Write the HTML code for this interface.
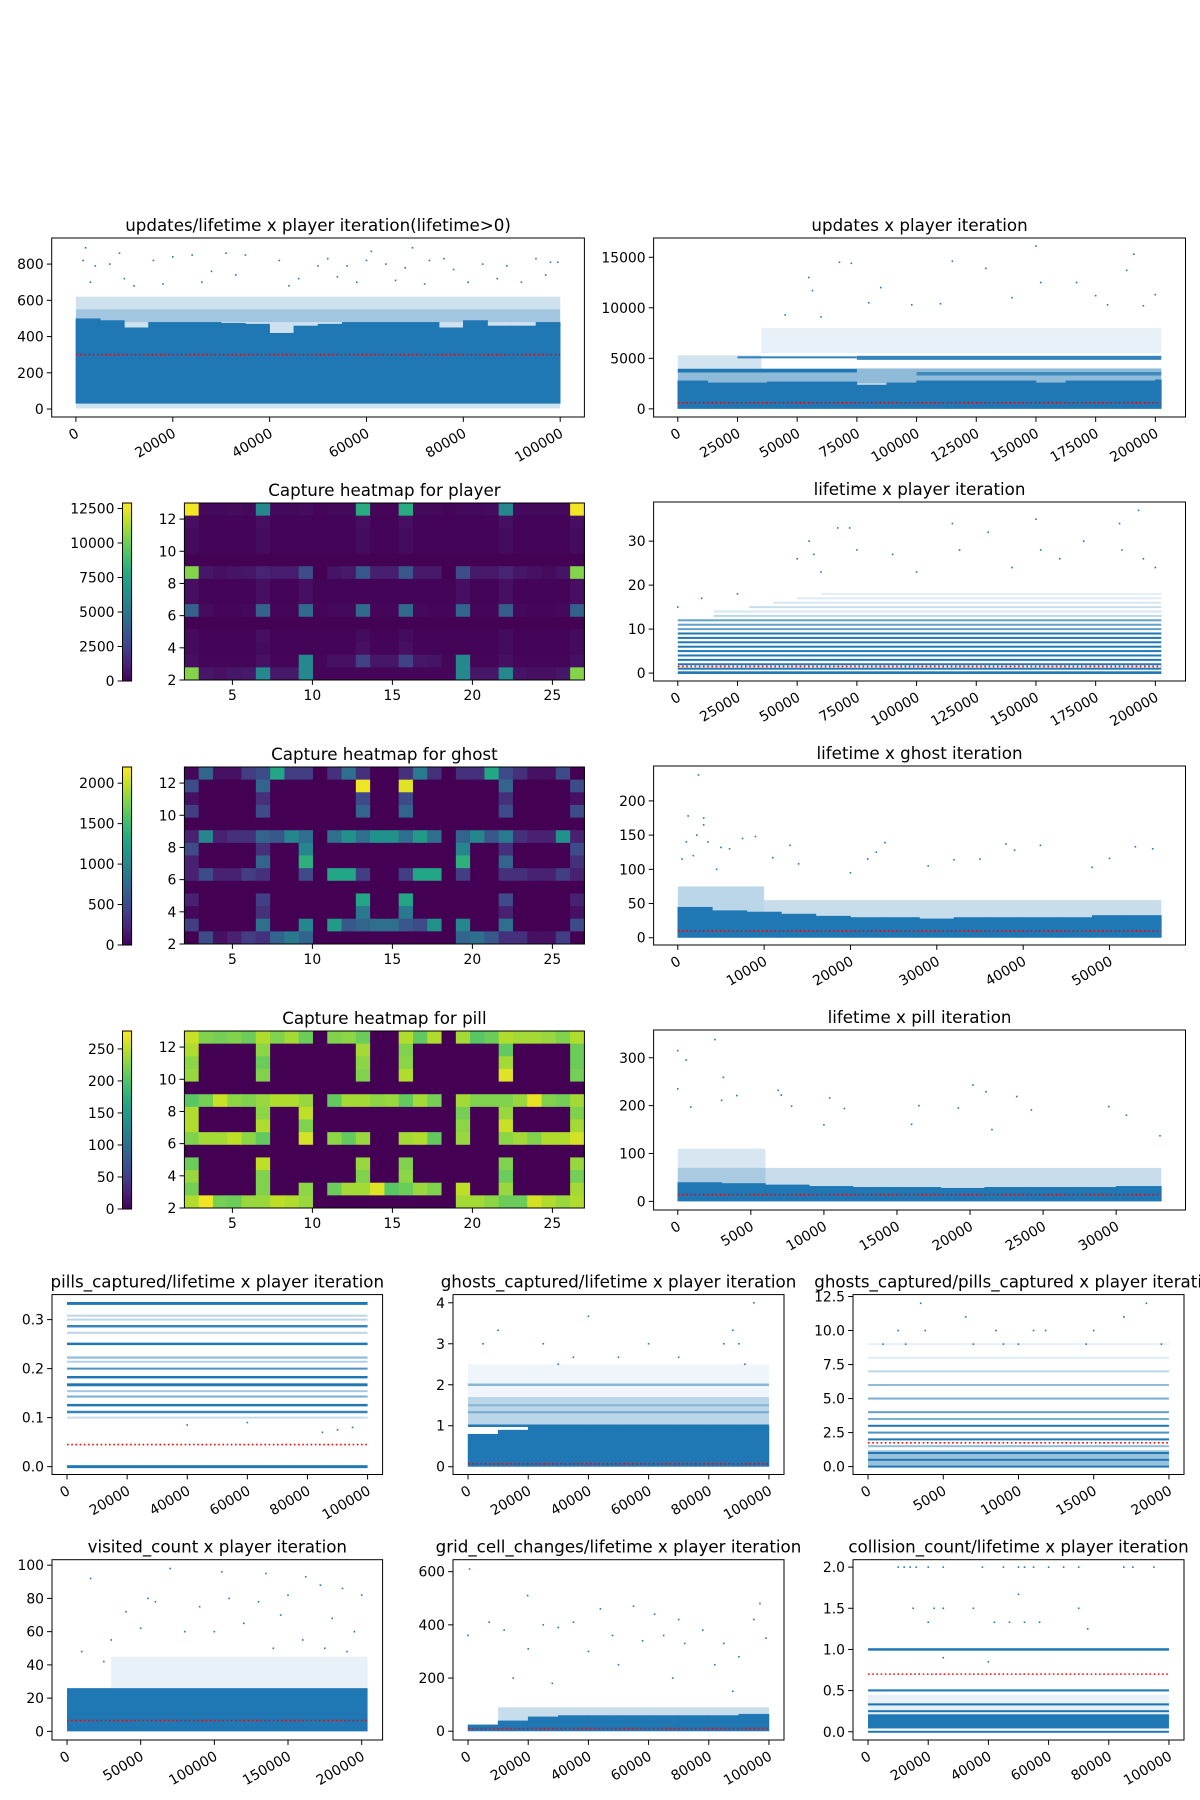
<!DOCTYPE html>
<html><head><meta charset="utf-8"><title>Pacman training stats</title>
<style>
html,body{margin:0;padding:0;background:#fff;}
#fig{display:block;width:1200px;height:1800px;}
text{font-family:"DejaVu Sans","Liberation Sans",sans-serif;fill:#000;}
</style></head>
<body>
<svg id="fig" xmlns="http://www.w3.org/2000/svg" width="1200" height="1800" viewBox="0 0 1200 1800">
<rect x="0" y="0" width="1200" height="1800" fill="#fff"/>
</svg>
<script>
// ---------- heatmap data (rows top y=13 down to y=2, 28 columns x=2..27) ----------
const playerHeat = [
[12700,300,300,400,300,6000,300,300,400,200,300,300,8000,200,200,8000,300,300,200,300,300,400,6000,300,300,300,300,12700],
[500,100,100,100,100,500,100,100,100,100,100,100,500,100,100,500,100,100,100,100,100,100,500,100,100,100,100,500],
[400,100,100,100,100,400,100,100,100,100,100,100,400,100,100,400,100,100,100,100,100,100,400,100,100,100,100,400],
[400,100,100,100,100,400,100,100,100,100,100,100,400,100,100,400,100,100,100,100,100,100,400,100,100,100,100,400],
[50,50,50,50,50,50,50,50,50,50,50,50,50,50,50,50,50,50,50,50,50,50,50,50,50,50,50,50],
[10500,800,500,700,800,1200,1000,1000,3000,0,700,900,3500,1100,1100,3500,900,900,0,3000,900,900,1300,800,600,400,700,10500],
[500,100,100,100,100,500,100,100,500,100,100,100,100,100,100,100,100,100,100,500,100,100,500,100,100,100,100,500],
[500,100,100,100,100,500,100,100,500,100,100,100,100,100,100,100,100,100,100,500,100,100,500,100,100,100,100,500],
[4000,400,200,200,300,4000,200,200,4500,200,300,300,4500,200,200,4500,300,200,200,4200,200,200,3800,300,200,200,300,4000],
[50,50,50,50,50,50,50,50,50,50,50,50,50,50,50,50,50,50,50,50,50,50,50,50,50,50,50,50],
[400,100,100,100,100,500,100,100,100,100,100,100,400,100,100,400,100,100,100,100,100,100,400,100,100,100,100,400],
[400,100,100,100,100,400,100,100,100,100,100,100,500,100,100,500,100,100,100,100,100,100,400,100,100,100,100,400],
[500,200,200,200,200,600,200,200,6000,200,600,600,2500,800,800,2500,800,700,200,6000,200,200,500,200,200,200,200,600],
[10500,800,600,800,900,6000,900,900,6000,200,200,200,200,200,200,200,200,200,200,6000,800,800,6000,700,500,500,800,10500]
];
const ghostHeat = [
[50,700,100,100,400,500,1300,400,400,0,300,800,300,0,0,300,900,300,0,300,300,1300,500,300,100,100,500,0],
[500,0,0,0,0,700,0,0,0,0,0,0,2150,0,0,2100,0,0,0,0,0,0,700,0,0,0,0,500],
[100,0,0,0,0,300,0,0,0,0,0,0,500,0,0,500,0,0,0,0,0,0,300,0,0,0,0,100],
[400,0,0,0,0,500,0,0,0,0,0,0,700,0,0,700,0,0,0,0,0,0,500,0,0,0,0,500],
[0,0,0,0,0,0,0,0,0,0,0,0,0,0,0,0,0,0,0,0,0,0,0,0,0,0,0,0],
[200,1000,200,300,300,700,600,1000,800,0,800,1100,800,1100,1100,800,1200,800,0,700,1000,600,900,300,200,200,1100,200],
[500,0,0,0,0,300,0,0,1000,0,0,0,0,0,0,0,0,0,0,1000,0,0,300,0,0,0,0,500],
[200,0,0,0,0,700,0,0,1400,0,0,0,0,0,0,0,0,0,0,1400,0,0,700,0,0,0,0,300],
[200,500,200,200,400,300,0,0,500,0,1300,1300,400,0,0,400,1300,1300,0,400,0,0,300,300,200,200,400,200],
[0,0,0,0,0,0,0,0,0,0,0,0,0,0,0,0,0,0,0,0,0,0,0,0,0,0,0,0],
[200,0,0,0,0,400,0,0,0,0,0,0,1300,0,0,1300,0,0,0,0,0,0,500,0,0,0,0,200],
[50,0,0,0,0,300,0,0,0,0,0,0,900,0,0,900,0,0,0,0,0,0,200,0,0,0,0,100],
[400,0,0,0,0,800,0,0,1000,0,1200,600,700,800,800,600,500,1100,0,1000,0,0,800,0,0,0,0,500],
[0,500,100,200,400,300,700,900,700,0,0,0,0,0,0,0,0,0,0,700,800,600,300,300,100,100,400,0]
];
const pillHeat = [
[255,225,220,225,215,245,225,240,215,0,225,230,215,0,0,245,210,245,0,240,205,215,245,240,240,235,225,245],
[245,0,0,0,0,230,0,0,0,0,0,0,240,0,0,225,0,0,0,0,0,0,210,0,0,0,0,215],
[230,0,0,0,0,215,0,0,0,0,0,0,230,0,0,230,0,0,0,0,0,0,240,0,0,0,0,215],
[235,0,0,0,0,225,0,0,0,0,0,0,225,0,0,245,0,0,0,0,0,0,265,0,0,0,0,220],
[0,0,0,0,0,0,0,0,0,0,0,0,0,0,0,0,0,0,0,0,0,0,0,0,0,0,0,0],
[205,220,255,230,225,235,245,245,235,0,210,240,240,230,235,210,240,220,0,240,225,225,225,235,268,225,220,240],
[245,0,0,0,0,230,0,0,250,0,0,0,0,0,0,0,0,0,0,220,0,0,235,0,0,0,0,225],
[245,0,0,0,0,245,0,0,225,0,0,0,0,0,0,0,0,0,0,230,0,0,255,0,0,0,0,240],
[225,240,240,250,230,210,0,0,260,0,230,210,235,0,0,240,245,210,0,235,0,0,230,240,225,245,245,260],
[0,0,0,0,0,0,0,0,0,0,0,0,0,0,0,0,0,0,0,0,0,0,0,0,0,0,0,0],
[215,0,0,0,0,250,0,0,0,0,0,0,235,0,0,225,0,0,0,0,0,0,225,0,0,0,0,235],
[235,0,0,0,0,225,0,0,0,0,0,0,225,0,0,230,0,0,0,0,0,0,215,0,0,0,0,220],
[220,0,0,0,0,225,0,0,230,0,215,240,240,265,205,215,235,225,0,250,0,0,235,0,0,0,0,240],
[245,272,220,215,235,235,250,245,235,0,0,0,0,0,0,0,0,0,0,240,240,230,215,215,260,245,235,245]
];
const heatXTicks = [5,10,15,20,25];
const heatYTicks = [2,4,6,8,10,12];
const playerCbTicks = [0,2500,5000,7500,10000,12500];
const ghostCbTicks = [0,500,1000,1500,2000];
const pillCbTicks = [0,50,100,150,200,250];

// ---------- scatter data ----------
const p1Edges = [0,5000,10000,15000,20000,25000,30000,35000,40000,45000,50000,55000,60000,65000,70000,75000,80000,85000,90000,95000,100000];
const p1Lo = [30,30,30,30,30,30,30,30,30,30,30,30,30,30,30,30,30,30,30,30];
const p1Hi = [500,490,450,480,480,480,475,470,420,460,470,480,480,480,480,450,490,460,460,480];
const p1BandX0 = [0,0];
const p1BandX1 = [100000,100000];
const p1BandY0 = [3,480];
const p1BandY1 = [620,550];
const p1BandA = [0.22,0.25];
const p1OutX = [1500,2000,4000,7000,9000,12000,16000,20000,24000,28000,31000,35000,42000,46000,50000,52000,56000,60000,61000,64000,68000,69500,73000,76000,78000,84000,89000,95000,98000,99500,3000,10000,18000,26000,33000,44000,54000,58000,66000,72000,81000,87000,92000,97000];
const p1OutY = [820,890,790,800,860,680,820,840,850,760,860,850,820,720,790,830,790,820,870,800,780,890,820,830,770,800,790,830,810,810,700,720,690,700,740,680,730,700,710,690,700,720,700,740];
const p1Mean = [300];

const p2Edges = [0,12500,25000,37500,50000,62500,75000,87500,100000,112500,125000,137500,150000,162500,175000,187500,200000,202500];
const p2Lo = [0,0,0,0,0,0,0,0,0,0,0,0,0,0,0,0,0];
const p2Hi = [2800,2600,2600,2700,2700,2700,2400,2600,2800,2800,2800,2800,2600,2800,2800,2800,2900];
const p2BandX0 = [0,0,25000,75000,100000,35000,0];
const p2BandX1 = [202500,75000,75000,202500,202500,202500,35000];
const p2BandY0 = [2500,3600,5000,4850,3300,5500,4000];
const p2BandY1 = [4000,3950,5200,5250,3650,8000,5300];
const p2BandA = [0.5,1,0.9,0.9,0.7,0.1,0.2];
const p2OutX = [67700,72700,54900,56400,115000,129000,150000,152000,167000,175000,191000,188000,200000,85000,80000,45000,60000,98000,140000,180000,195000,110000];
const p2OutY = [14500,14400,13000,11700,14600,13900,16100,12500,12500,11200,15300,13700,11300,12000,10500,9300,9100,10300,11000,10300,10200,10400];
const p2Mean = [600];

const p3BandX0 = [0,0,0,0,0,0,0,0,0,0,0,0,0,15000,15000,30000,40000,50000,60000];
const p3BandX1 = [202500,202500,202500,202500,202500,202500,202500,202500,202500,202500,202500,202500,202500,202500,202500,202500,202500,202500,202500];
const p3BandY0 = [-0.2,0.8,1.8,2.8,3.8,4.8,5.8,6.8,7.8,8.8,9.8,10.8,11.8,12.8,13.8,14.8,15.8,16.8,17.8];
const p3BandY1 = [0.4,1.2,2.2,3.2,4.2,5.2,6.2,7.2,8.2,9.2,10.2,11.2,12.2,13.2,14.2,15.2,16.2,17.2,18.2];
const p3BandA = [1,1,1,1,1,1,1,1,1,1,0.7,0.7,0.7,0.3,0.18,0.25,0.18,0.15,0.12];
const p3OutX = [0,10000,25000,50000,55000,57000,67000,72000,75000,90000,115000,118000,130000,150000,152000,170000,185000,186000,193000,195000,200000,160000,140000,100000,60000];
const p3OutY = [15,17,18,26,30,27,33,33,28,27,34,28,32,35,28,30,34,28,37,26,24,26,24,23,23];
const p3Mean = [1.5];

const p6Edges = [0,4000,8000,12000,16000,20000,24000,28000,32000,36000,40000,44000,48000,52000,56000];
const p6Lo = [0,0,0,0,0,0,0,0,0,0,0,0,0,0];
const p6Hi = [45,40,38,35,32,30,30,28,30,30,30,30,33,33];
const p6BandX0 = [0,10000];
const p6BandX1 = [10000,56000];
const p6BandY0 = [0,0];
const p6BandY1 = [75,55];
const p6BandA = [0.3,0.25];
const p6OutX = [500,1000,1200,1800,2200,2400,3000,3000,3500,4500,5000,6000,7500,9000,11000,13000,14000,22000,23000,24000,29000,32000,38000,39000,42000,48000,50000,53000,55000,20000,35000];
const p6OutY = [115,140,178,120,150,238,165,175,140,100,132,130,145,148,117,135,108,115,125,139,105,114,137,128,135,103,116,133,130,95,115];
const p6Mean = [10];

const p8Edges = [0,3000,6000,9000,12000,15000,18000,21000,24000,27000,30000,33090];
const p8Lo = [0,0,0,0,0,0,0,0,0,0,0];
const p8Hi = [40,38,35,32,30,30,28,30,30,30,32];
const p8BandX0 = [0,0];
const p8BandX1 = [33090,6000];
const p8BandY0 = [0,0];
const p8BandY1 = [70,110];
const p8BandA = [0.25,0.18];
const p8OutX = [0,0,580,890,2540,3120,3000,4040,6870,7080,7790,10400,11400,16500,19200,20200,21100,23200,24200,29500,30700,33000,16000,21500,10000];
const p8OutY = [315,235,295,197,338,259,211,221,232,222,199,216,194,200,195,243,229,219,191,198,180,137,161,150,160];
const p8Mean = [14];

const p9BandX0 = [0,0,0,0,0,0,0,0,0,0,0,0,0,0,0,0,0];
const p9BandX1 = [100000,100000,100000,100000,100000,100000,100000,100000,100000,100000,100000,100000,100000,100000,100000,100000,100000];
const p9BandY0 = [-0.003,0.330,0.306,0.298,0.284,0.271,0.248,0.220,0.212,0.198,0.180,0.164,0.152,0.141,0.123,0.109,0.099];
const p9BandY1 = [0.003,0.336,0.310,0.302,0.289,0.275,0.253,0.225,0.216,0.202,0.185,0.170,0.156,0.145,0.128,0.114,0.101];
const p9BandA = [1,1,0.3,0.3,0.9,0.3,1,0.45,0.35,0.8,1,1,0.4,0.6,1,0.9,0.25];
const p9OutX = [40000,60000,85000,90000,95000];
const p9OutY = [0.085,0.09,0.07,0.075,0.08];
const p9Mean = [0.045];

const p10Edges = [0,10000,20000,30000,40000,50000,60000,70000,80000,90000,100000];
const p10Lo = [0,0,0,0,0,0,0,0,0,0];
const p10Hi = [0.8,0.9,1.0,1.0,1.0,1.0,1.0,1.0,1.0,1.0];
const p10BandX0 = [0,0,0,0,0,0];
const p10BandX1 = [100000,100000,100000,100000,100000,100000];
const p10BandY0 = [1.0,0.97,1.97,1.31,1.48,1.7];
const p10BandY1 = [1.7,1.03,2.03,1.35,1.52,2.5];
const p10BandA = [0.3,1,0.5,0.45,0.35,0.07];
const p10OutX = [10000,5000,25000,40000,35000,60000,70000,85000,88000,90000,95000,92000,30000,50000];
const p10OutY = [3.33,3,3,3.67,2.67,3,2.67,3,3.33,3,4,2.5,2.5,2.67];
const p10Mean = [0.07];

const p11BandX0 = [0,0,0,0,0,0,0,0,0,0,0,0,0,0,0];
const p11BandX1 = [20000,20000,20000,20000,20000,20000,20000,20000,20000,20000,20000,20000,20000,20000,20000];
const p11BandY0 = [0,-0.05,0.45,0.95,1.45,1.95,2.45,2.95,3.45,3.95,4.95,5.95,6.95,7.95,8.95];
const p11BandY1 = [1.2,0.05,0.55,1.05,1.55,2.05,2.55,3.05,3.55,4.05,5.05,6.05,7.05,8.05,9.05];
const p11BandA = [0.45,1,1,1,0.5,1,0.8,1,0.6,0.7,0.6,0.5,0.3,0.15,0.1];
const p11OutX = [3500,18500,17000,6500,2000,3800,8500,11000,11800,15000,1000,2500,7000,9000,10000,14500,19500];
const p11OutY = [12,12,11,11,10,10,10,10,10,10,9,9,9,9,9,9,9];
const p11Mean = [1.75];

const p12BandX0 = [0,30000];
const p12BandX1 = [204000,204000];
const p12BandY0 = [0,26];
const p12BandY1 = [26,45];
const p12BandA = [1,0.1];
const p12OutX = [70000,16000,105000,135000,162000,172000,187000,200000,55000,60000,90000,110000,130000,150000,40000,30000,10000,120000,145000,180000,195000,80000,50000,100000,160000,175000,25000,140000,190000];
const p12OutY = [98,92,96,95,93,88,86,82,80,78,75,80,78,82,72,55,48,65,70,68,60,60,62,60,55,50,42,50,48];
const p12Mean = [6.5];

const p13Edges = [0,10000,20000,30000,40000,50000,60000,70000,80000,90000,100000];
const p13Lo = [0,0,0,0,0,0,0,0,0,0];
const p13Hi = [25,40,55,60,60,60,60,60,60,65];
const p13BandX0 = [10000];
const p13BandX1 = [100000];
const p13BandY0 = [0];
const p13BandY1 = [90];
const p13BandA = [0.25];
const p13OutX = [500,0,19800,7000,12000,20000,25000,30000,35000,40000,44000,48000,55000,58000,62000,65000,70000,72000,78000,82000,85000,90000,95000,97000,99000,50000,15000,28000,68000,88000];
const p13OutY = [610,360,510,410,380,310,400,390,410,300,460,360,470,340,440,360,420,330,380,250,330,280,420,480,350,250,200,180,200,150];
const p13Mean = [10];

const p14BandX0 = [0,0,0,0,0,0,0,0];
const p14BandX1 = [100000,100000,100000,100000,100000,100000,100000,100000];
const p14BandY0 = [-0.01,0.04,0.19,0.24,0.32,0.49,0.985,0.2];
const p14BandY1 = [0.01,0.2,0.21,0.26,0.345,0.515,1.015,0.45];
const p14BandA = [1,1,1,1,1,1,1,0.1];
const p14OutX = [10000,12000,14000,16000,20000,25000,38000,45000,50000,52000,55000,60000,65000,70000,85000,88000,95000,15000,22000,25000,35000,70000,20000,42000,47000,52000,57000,50000,73000,25000,40000];
const p14OutY = [2,2,2,2,2,2,2,2,2,2,2,2,2,2,2,2,2,1.5,1.5,1.5,1.5,1.5,1.33,1.33,1.33,1.33,1.33,1.67,1.25,0.9,0.85];
const p14Mean = [0.7];

const xt100k = [0,20000,40000,60000,80000,100000];
const xt200k = [0,25000,50000,75000,100000,125000,150000,175000,200000];
const xt56k = [0,10000,20000,30000,40000,50000];
const xt33k = [0,5000,10000,15000,20000,25000,30000];
const xt20k = [0,5000,10000,15000,20000];
const xt204k = [0,50000,100000,150000,200000];

// ---------- rendering ----------
const SVGNS = 'http://www.w3.org/2000/svg';
const svg = document.getElementById('fig');
const BLUE = '#1f77b4';
const VIR = ['#440154','#482475','#414487','#355f8d','#2a788e','#21918c','#22a884','#44bf70','#7ad151','#bddf26','#fde725'];
function hex2rgb(h){return [parseInt(h.slice(1,3),16),parseInt(h.slice(3,5),16),parseInt(h.slice(5,7),16)];}
function viridis(t){
  t=Math.max(0,Math.min(1,t));
  const f=t*10, i=Math.min(9,Math.floor(f)), r=f-i;
  const a=hex2rgb(VIR[i]), b=hex2rgb(VIR[i+1]);
  return 'rgb('+a.map((v,k)=>Math.round(v+(b[k]-v)*r)).join(',')+')';
}
function mk(tag, attrs, parent){
  const e=document.createElementNS(SVGNS,tag);
  for(const k in attrs) e.setAttribute(k,attrs[k]);
  (parent||svg).appendChild(e);
  return e;
}
function txt(s, x, y, anchor, size, parent, transform){
  const t=mk('text',{x:x,y:y,'text-anchor':anchor,'font-size':size},parent);
  if(transform) t.setAttribute('transform',transform);
  t.textContent=s;
  return t;
}
let clipN=0;

function axesFrame(g, box, sx, sy, xticks, yticks, yLabels, title, rotX){
  const [L,T,R,B]=box;
  for(let i=0;i<yticks.length;i++){
    const y=sy(yticks[i]);
    const tk=mk('line',{x1:L-4.9,x2:L,y1:y,y2:y,stroke:'#000','stroke-width':1},g);
    
    
    const lb=txt(yLabels[i],L-8,y+5,'end',13.9,g);
    
    
  }
  for(let i=0;i<xticks.length;i++){
    const x=sx(xticks[i]);
    const tk=mk('line',{x1:x,x2:x,y1:B,y2:B+4.9,stroke:'#000','stroke-width':1},g);
    
    
    let lb;
    if(rotX){
      lb=txt(String(xticks[i]),0,0,'end',13.9,g,'translate('+(x+4)+','+(B+19)+') rotate(-30)');
    } else {
      lb=txt(String(xticks[i]),x,B+20,'middle',13.9,g);
    }
    
    
  }
  const fr=mk('rect',{x:L,y:T,width:R-L,height:B-T,fill:'none',stroke:'#000','stroke-width':1},g);
  
  
  const tt=txt(title,(L+R)/2,T-7,'middle',16.7,g);
  
  
}

function scatter(cfg){
  const g=mk('g',{});
  
  
  const [L,T,R,B]=cfg.box;
  const xmax=cfg.xmax, xlo=-0.05*xmax, xhi=1.05*xmax;
  const sx=v=>L+(v-xlo)/(xhi-xlo)*(R-L);
  const sy=v=>B-(v-cfg.ylim[0])/(cfg.ylim[1]-cfg.ylim[0])*(B-T);
  const cid='clip'+(clipN++);
  const cp=mk('clipPath',{id:cid},g);
  mk('rect',{x:L,y:T,width:R-L,height:B-T},cp);
  const m=mk('g',{'clip-path':'url(#'+cid+')'},g);
  
  
  if(cfg.bx0){
    for(let i=0;i<cfg.bx0.length;i++){
      const x0=sx(cfg.bx0[i]), x1=sx(cfg.bx1[i]);
      let y0=sy(cfg.by1[i]), y1=sy(cfg.by0[i]);
      if(y1-y0<2){const c=(y0+y1)/2;y0=c-1;y1=c+1;}
      const r=mk('rect',{x:x0,y:y0,width:Math.max(1,x1-x0),height:y1-y0,fill:BLUE,'fill-opacity':cfg.ba[i]},m);
      
      
    }
  }
  if(cfg.edges){
    for(let i=0;i<cfg.lo.length;i++){
      const x0=sx(cfg.edges[i]), x1=sx(cfg.edges[i+1]);
      const y0=sy(cfg.hi[i]), y1=sy(cfg.lo[i]);
      const r=mk('rect',{x:x0-0.3,y:y0,width:x1-x0+0.6,height:y1-y0,fill:BLUE},m);
      
      
    }
  }
  for(let i=0;i<cfg.ox.length;i++){
    const p=mk('rect',{x:sx(cfg.ox[i])-0.8,y:sy(cfg.oy[i])-0.8,width:1.6,height:1.6,fill:BLUE},m);
    
    
  }
  const ml=mk('line',{x1:sx(0),x2:sx(xmax),y1:sy(cfg.mean[0]),y2:sy(cfg.mean[0]),stroke:'#ff0000','stroke-width':1.6,'stroke-dasharray':'1.6,2.6'},m);
  
  
  axesFrame(g,cfg.box,sx,sy,cfg.xticks,cfg.yticks,cfg.ylabels,cfg.title,true);
}

function heatmap(name, data, box, cbBox, vmax, cbTicks, title){
  const g=mk('g',{});
  
  
  const [L,T,R,B]=box;
  const sx=v=>L+(v-2)/25*(R-L);
  const sy=v=>B-(v-2)/11*(B-T);
  const nr=data.length, nc=data[0].length;
  const cw=(R-L)/nc, ch=(B-T)/nr;
  for(let r=0;r<nr;r++){
    for(let c=0;c<nc;c++){
      const cell=mk('rect',{x:L+c*cw,y:T+r*ch,width:cw+0.4,height:ch+0.4,fill:viridis(data[r][c]/vmax)},g);
      
      
    }
  }
  axesFrame(g,box,sx,sy,heatXTicks,heatYTicks,heatYTicks.map(String),title,false);
  const [cl,ct,cr,cb]=cbBox;
  const cg=mk('g',{},g);
  
  
  const n=60;
  for(let i=0;i<n;i++){
    const s=mk('rect',{x:cl,y:cb-(i+1)*(cb-ct)/n,width:cr-cl,height:(cb-ct)/n+0.5,fill:viridis((i+0.5)/n)},cg);
    
    
  }
  mk('rect',{x:cl,y:ct,width:cr-cl,height:cb-ct,fill:'none',stroke:'#000','stroke-width':1},cg);
  for(const t of cbTicks){
    const y=cb-t/vmax*(cb-ct);
    mk('line',{x1:cl-4.9,x2:cl,y1:y,y2:y,stroke:'#000','stroke-width':1},cg);
    const lb=txt(String(t),cl-8,y+5,'end',13.9,cg);
    
    
  }
}

const Lb=[51.7,584.4], Rb=[653.6,1185.5];
scatter({name:'updates-per-lifetime-chart',box:[Lb[0],238,Lb[1],417],xmax:100000,ylim:[-44,944],xticks:xt100k,yticks:[0,200,400,600,800],ylabels:['0','200','400','600','800'],title:'updates/lifetime x player iteration(lifetime>0)',edges:p1Edges,lo:p1Lo,hi:p1Hi,bx0:p1BandX0,bx1:p1BandX1,by0:p1BandY0,by1:p1BandY1,ba:p1BandA,ox:p1OutX,oy:p1OutY,mean:p1Mean});
scatter({name:'updates-chart',box:[Rb[0],238,Rb[1],417],xmax:202500,ylim:[-805,16905],xticks:xt200k,yticks:[0,5000,10000,15000],ylabels:['0','5000','10000','15000'],title:'updates x player iteration',edges:p2Edges,lo:p2Lo,hi:p2Hi,bx0:p2BandX0,bx1:p2BandX1,by0:p2BandY0,by1:p2BandY1,ba:p2BandA,ox:p2OutX,oy:p2OutY,mean:p2Mean});
heatmap('player-heatmap',playerHeat,[184.4,503,584.4,680],[122.5,503,131.6,681],12900,playerCbTicks,'Capture heatmap for player');
scatter({name:'lifetime-player-chart',box:[Rb[0],502,Rb[1],681],xmax:202500,ylim:[-1.8,38.9],xticks:xt200k,yticks:[0,10,20,30],ylabels:['0','10','20','30'],title:'lifetime x player iteration',bx0:p3BandX0,bx1:p3BandX1,by0:p3BandY0,by1:p3BandY1,ba:p3BandA,ox:p3OutX,oy:p3OutY,mean:p3Mean});
heatmap('ghost-heatmap',ghostHeat,[184.4,767,584.4,944],[122.5,767,131.6,945],2200,ghostCbTicks,'Capture heatmap for ghost');
scatter({name:'lifetime-ghost-chart',box:[Rb[0],766,Rb[1],945],xmax:56000,ylim:[-10.6,251],xticks:xt56k,yticks:[0,50,100,150,200],ylabels:['0','50','100','150','200'],title:'lifetime x ghost iteration',edges:p6Edges,lo:p6Lo,hi:p6Hi,bx0:p6BandX0,bx1:p6BandX1,by0:p6BandY0,by1:p6BandY1,ba:p6BandA,ox:p6OutX,oy:p6OutY,mean:p6Mean});
heatmap('pill-heatmap',pillHeat,[184.4,1031,584.4,1208],[122.5,1031,131.6,1209],278,pillCbTicks,'Capture heatmap for pill');
scatter({name:'lifetime-pill-chart',box:[Rb[0],1030,Rb[1],1210],xmax:33090,ylim:[-18,358],xticks:xt33k,yticks:[0,100,200,300],ylabels:['0','100','200','300'],title:'lifetime x pill iteration',edges:p8Edges,lo:p8Lo,hi:p8Hi,bx0:p8BandX0,bx1:p8BandX1,by0:p8BandY0,by1:p8BandY1,ba:p8BandA,ox:p8OutX,oy:p8OutY,mean:p8Mean});
scatter({name:'pills-captured-chart',box:[52,1294.6,382.6,1474.5],xmax:100000,ylim:[-0.016,0.351],xticks:xt100k,yticks:[0,0.1,0.2,0.3],ylabels:['0.0','0.1','0.2','0.3'],title:'pills_captured/lifetime x player iteration',bx0:p9BandX0,bx1:p9BandX1,by0:p9BandY0,by1:p9BandY1,ba:p9BandA,ox:p9OutX,oy:p9OutY,mean:p9Mean});
scatter({name:'ghosts-captured-chart',box:[453,1294.6,784,1474.5],xmax:100000,ylim:[-0.19,4.2],xticks:xt100k,yticks:[0,1,2,3,4],ylabels:['0','1','2','3','4'],title:'ghosts_captured/lifetime x player iteration',edges:p10Edges,lo:p10Lo,hi:p10Hi,bx0:p10BandX0,bx1:p10BandX1,by0:p10BandY0,by1:p10BandY1,ba:p10BandA,ox:p10OutX,oy:p10OutY,mean:p10Mean});
scatter({name:'ghosts-per-pills-chart',box:[853,1294.6,1184,1474.5],xmax:20000,ylim:[-0.58,12.64],xticks:xt20k,yticks:[0,2.5,5,7.5,10,12.5],ylabels:['0.0','2.5','5.0','7.5','10.0','12.5'],title:'ghosts_captured/pills_captured x player iteration',bx0:p11BandX0,bx1:p11BandX1,by0:p11BandY0,by1:p11BandY1,ba:p11BandA,ox:p11OutX,oy:p11OutY,mean:p11Mean});
scatter({name:'visited-count-chart',box:[52,1559.7,382.6,1740],xmax:204000,ylim:[-5.2,103.3],xticks:xt204k,yticks:[0,20,40,60,80,100],ylabels:['0','20','40','60','80','100'],title:'visited_count x player iteration',bx0:p12BandX0,bx1:p12BandX1,by0:p12BandY0,by1:p12BandY1,ba:p12BandA,ox:p12OutX,oy:p12OutY,mean:p12Mean});
scatter({name:'grid-cell-changes-chart',box:[453,1559.7,784,1740],xmax:100000,ylim:[-33,645],xticks:xt100k,yticks:[0,200,400,600],ylabels:['0','200','400','600'],title:'grid_cell_changes/lifetime x player iteration',edges:p13Edges,lo:p13Lo,hi:p13Hi,bx0:p13BandX0,bx1:p13BandX1,by0:p13BandY0,by1:p13BandY1,ba:p13BandA,ox:p13OutX,oy:p13OutY,mean:p13Mean});
scatter({name:'collision-count-chart',box:[853,1559.7,1184,1740],xmax:100000,ylim:[-0.1,2.09],xticks:xt100k,yticks:[0,0.5,1,1.5,2],ylabels:['0.0','0.5','1.0','1.5','2.0'],title:'collision_count/lifetime x player iteration',bx0:p14BandX0,bx1:p14BandX1,by0:p14BandY0,by1:p14BandY1,ba:p14BandA,ox:p14OutX,oy:p14OutY,mean:p14Mean});
</script>
</body></html>
